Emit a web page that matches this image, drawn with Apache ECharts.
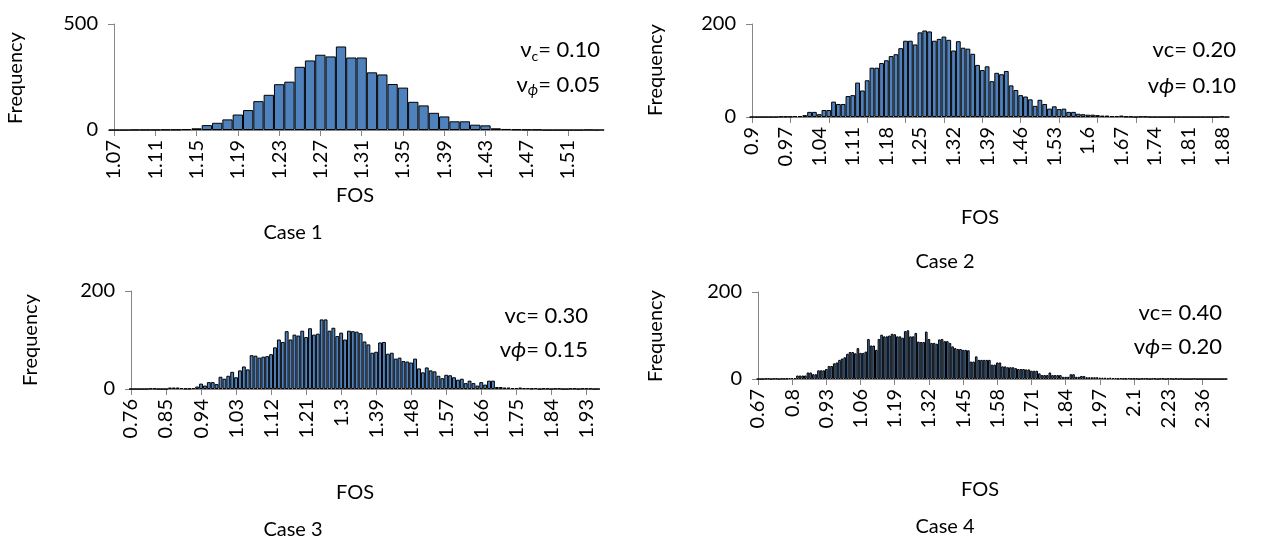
<!DOCTYPE html>
<html><head><meta charset="utf-8">
<script src="https://cdn.jsdelivr.net/npm/echarts@6/dist/echarts.min.js"></script>
<style>html,body{margin:0;padding:0;background:#fff}#c{width:1261px;height:541px}</style>
</head><body><div id="c"></div>
<script>
// ---- data ----
const range1 = [1.07, 1.54];
const range2 = [0.90, 1.89];
const range3 = [0.76, 1.96];
const range4 = [0.67, 2.45];

const freq1 = [0,0,1,1,1,2,2,4,8,23,34,50,73,94,136,166,216,228,298,328,355,347,394,342,342,272,262,217,200,133,116,81,64,41,41,25,22,8,5,3,2,2,0,0,0,0,1,0];

const freq2 = [0,0,0,0,0,0, 1,1,1,2,2,4,
 11,11,6,15,15,33,28,28,45,47,74,57,79,106,106,116,122,131,135,148,164,164,156,182,186,184,164,168,173,166,143,163,149,147,136,112,101,109,77,95,92,99,68,58,47,44,38,24,37,28,18,23,17,18,11,11,7,6,5,5,4,3,3,2,2,3,1,1,0,1,1,
 0,0,0,0,0,0,0,0,0,0,0,0,0,0,0, 1,0];

const freq3 = [0,0,0,0,0,1,1,0,0,0,3,3,3,2,1,1,2,5,
 11,7,14,14,10,25,21,27,35,24,
 38,46,40,69,68,64,66,67,71,85,
 101,96,118,101,111,109,119,106,124,111,
 113,142,142,119,125,108,115,101,119,118,
 117,114,97,91,74,76,95,96,72,74,
 62,64,57,56,54,62,42,34,44,38,
 36,27,22,29,28,24,19,21,12,17,
 12,7,14,9,17,17,
 4,4,3,3,2,2,3,2,2,1,2,0,1,1,0,1,1,0,0,1,1,0,1,1,1,0,0];

const freq4 = [0,0,0,1,1,0,1,1,0,1,1,1,2,
 2,2,8,8,8,8,15,15,11,11,
 20,20,20,23,30,30,36,38,44,47,
 50,58,62,62,59,71,60,60,63,92,
 77,77,67,92,102,98,98,100,104,103,
 98,98,95,110,112,98,98,106,86,85,
 85,109,92,83,83,81,91,92,87,87,
 83,75,71,69,69,67,67,66,40,40,
 52,44,44,44,44,44,33,33,38,38,
 29,29,27,27,27,25,23,23,23,22,
 22,19,19,19,13,9,9,9,15,9,
 9,9,9,5,5,5,11,11,5,5,
 7,7,4,4,4,4,4,3,3,3,
 2,3,2,2,1,2,1,1,2,1,1,1,0,1,1,1,0,1,1,0,1,1,0,1,1,0,1,0,1,0,0,0,0,1,0,0,0,0,0,0,0,0,0,0,0,0];

const yMax = [500, 200, 200, 200];
const tickEvery = [4, 8, 9, 13];
const labelEvery = [4, 7, 9, 13];
const caseNames = ['Case 1','Case 2','Case 3','Case 4'];
const vcText = ['0.10','0.20','0.30','0.40'];
const vphiText = ['0.05','0.10','0.15','0.20'];

function makeCats(r){
  const a = Math.round(r[0]*100), b = Math.round(r[1]*100);
  const out = [];
  for (let i = a; i <= b; i++) out.push(String(i/100));
  return out;
}
const cats = [makeCats(range1), makeCats(range2), makeCats(range3), makeCats(range4)];
const freqs = [freq1, freq2, freq3, freq4];

// ---- layout ----
const grids = [
  {left:114, top:24, width:485, height:106},
  {left:752, top:24, width:475, height:93},
  {left:131, top:291, width:467, height:98},
  {left:758, top:292, width:468, height:87}
];
const FONT = 'Lato, "Open Sans", sans-serif';
const AX = '#868686';

const chart = echarts.init(document.getElementById('c'), null, {renderer:'canvas'});
const xAxes = [], yAxes = [], series = [];
for (let i = 0; i < 4; i++) {
  xAxes.push({
    type:'category', gridIndex:i, data:cats[i], boundaryGap:false,
    axisLine:{lineStyle:{color:AX, width:1}},
    axisTick:{interval:tickEvery[i]-1, length:6, lineStyle:{color:AX}},
    axisLabel:{interval:labelEvery[i]-1, rotate:90, color:'#000', fontFamily:FONT, fontSize:20, margin:10},
    splitLine:{show:false}
  });
  yAxes.push({
    type:'value', gridIndex:i, min:0, max:yMax[i], interval:yMax[i],
    axisLine:{show:true, lineStyle:{color:AX, width:1}},
    axisTick:{show:true, length:6, lineStyle:{color:AX}},
    axisLabel:{color:'#000', fontFamily:FONT, fontSize:20, margin:16},
    splitLine:{show:false}
  });
  series.push({
    type:'bar', xAxisIndex:i, yAxisIndex:i, data:freqs[i], barWidth:'100%',
    itemStyle:{color:'#4F81BD', borderColor:'#000', borderWidth:1},
    silent:true
  });
}

function txt(x, y, text, opts) {
  return Object.assign({type:'text', x:x, y:y, silent:true,
    style:{text:text, fill:'#000', font:'20px ' + FONT, align:'center', verticalAlign:'middle'}}, opts || {});
}
const freqPos = [[16,78],[656,70],[31,340],[656,336]];
const fosPos = [[355,196],[980,218],[355,493],[980,490]];
const casePos = [[293,233],[945,262],[293,530],[945,527]];
const annRight = [600, 1236, 588, 1222];
const annY = [[50,85],[50,86],[316,350],[313,347]];

const graphics = [];
for (let i = 0; i < 4; i++) {
  graphics.push(txt(freqPos[i][0], freqPos[i][1], 'Frequency', {rotation: Math.PI/2}));
  graphics.push(txt(fosPos[i][0], fosPos[i][1], 'FOS'));
  graphics.push(txt(casePos[i][0], casePos[i][1], caseNames[i]));
  const rich = {
    a:{fontSize:22, fontFamily:FONT, lineHeight:26, fill:'#000'},
    s:{fontSize:14, fontFamily:FONT, lineHeight:14, verticalAlign:'bottom', fill:'#000'},
    si:{fontSize:15, fontFamily:FONT, fontStyle:'italic', lineHeight:15, verticalAlign:'bottom', fill:'#000'},
    p:{fontSize:22, fontFamily:FONT, fontStyle:'italic', lineHeight:26, fill:'#000'}
  };
  let t1, t2;
  if (i === 0) {
    t1 = '{a|ν}{s|c}{a|= ' + vcText[i] + '}';
    t2 = '{a|ν}{si|ϕ}{a|= ' + vphiText[i] + '}';
  } else {
    t1 = '{a|vc= ' + vcText[i] + '}';
    t2 = '{a|v}{p|ϕ}{a|= ' + vphiText[i] + '}';
  }
  graphics.push({type:'text', x:annRight[i], y:annY[i][0], silent:true,
    style:{text:t1, rich:rich, align:'right', verticalAlign:'middle', font:'22px ' + FONT}});
  graphics.push({type:'text', x:annRight[i], y:annY[i][1], silent:true,
    style:{text:t2, rich:rich, align:'right', verticalAlign:'middle', font:'22px ' + FONT}});
}

chart.setOption({
  animation:false,
  backgroundColor:'#fff',
  grid:grids,
  xAxis:xAxes, yAxis:yAxes, series:series,
  graphic:graphics
});
</script></body></html>
